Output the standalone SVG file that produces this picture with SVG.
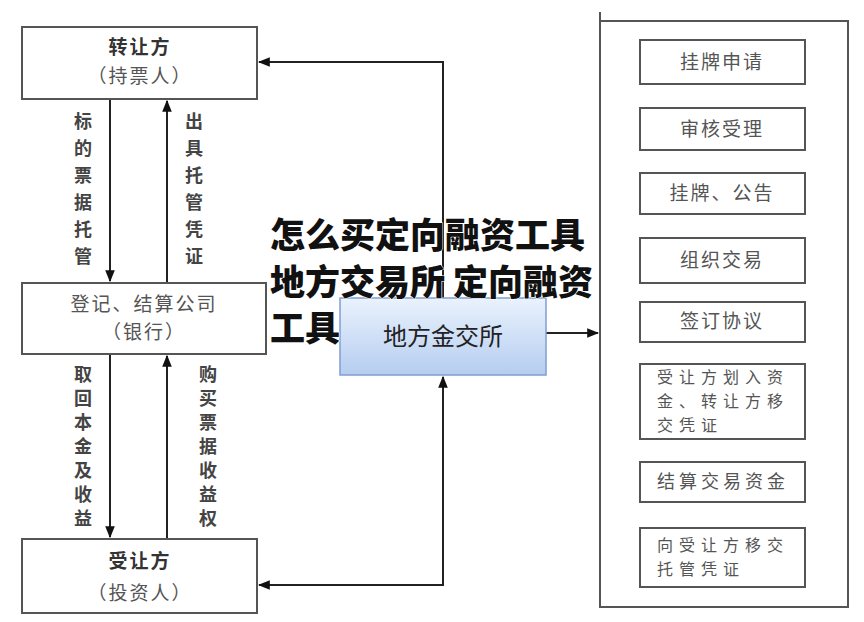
<svg xmlns="http://www.w3.org/2000/svg" width="864" height="622" viewBox="0 0 864 622">
<style>
.box{fill:#fff;stroke:#555;stroke-width:2}
.ln{fill:none;stroke:#222;stroke-width:2}
.t{font-family:"Noto Sans CJK SC","Noto Sans",sans-serif;font-size:19px;fill:#555;text-anchor:middle;letter-spacing:2px}
.tb{font-family:"Noto Sans CJK SC","Noto Sans",sans-serif;font-size:19px;fill:#333;font-weight:bold;text-anchor:middle;letter-spacing:2px}
.v{font-family:"Noto Sans CJK SC","Noto Sans",sans-serif;font-size:18px;fill:#444;font-weight:bold;text-anchor:middle}
.r{font-family:"Noto Sans CJK SC","Noto Sans",sans-serif;font-size:16px;fill:#555;letter-spacing:6px}
.r1{font-family:"Noto Sans CJK SC","Noto Sans",sans-serif;font-size:18px;fill:#555;letter-spacing:4px}
.title{font-family:"Noto Sans CJK SC","Noto Sans",sans-serif;font-size:35px;font-weight:900;fill:#111;stroke:#fff;stroke-width:1;paint-order:stroke}
</style>
<defs>
<marker id="ah" viewBox="0 0 10 10" refX="9" refY="5" markerWidth="6" markerHeight="6" orient="auto-start-reverse" markerUnits="strokeWidth"><path d="M0,1 L10,5 L0,9 z" fill="#111"/></marker>
<linearGradient id="bg" x1="0" y1="0" x2="0" y2="1"><stop offset="0" stop-color="#eaf2fd"/><stop offset="1" stop-color="#b5cdf0"/></linearGradient>
</defs>
<rect width="864" height="622" fill="#fff"/>

<g id="connectors">
<line class="ln" x1="110" y1="99" x2="110" y2="281" marker-end="url(#ah)"/>
<line class="ln" x1="167" y1="283" x2="167" y2="101" marker-end="url(#ah)"/>
<line class="ln" x1="110" y1="354" x2="110" y2="537" marker-end="url(#ah)"/>
<line class="ln" x1="167" y1="539" x2="167" y2="356" marker-end="url(#ah)"/>
<polyline class="ln" points="443,298 443,62 259,62" marker-end="url(#ah)"/>
<polyline class="ln" points="259,585 443,585 443,377" marker-start="url(#ah)" marker-end="url(#ah)"/>
<line class="ln" x1="546" y1="333" x2="598" y2="333" marker-end="url(#ah)"/>
</g>

<g id="transferor">
<rect class="box" x="22" y="27" width="235" height="72"/>
<text class="tb" x="140" y="54">转让方</text>
<text class="t" x="140" y="83">（持票人）</text>
</g>
<g id="label-left-1">
<text class="v" x="83"><tspan x="83" y="128">标</tspan><tspan x="83" y="155">的</tspan><tspan x="83" y="182">票</tspan><tspan x="83" y="209">据</tspan><tspan x="83" y="236">托</tspan><tspan x="83" y="263">管</tspan></text>
</g>
<g id="label-right-1">
<text class="v"><tspan x="194" y="128">出</tspan><tspan x="194" y="155">具</tspan><tspan x="194" y="182">托</tspan><tspan x="194" y="209">管</tspan><tspan x="194" y="236">凭</tspan><tspan x="194" y="263">证</tspan></text>
</g>

<g id="registrar">
<rect class="box" x="22" y="283" width="244" height="71"/>
<text class="t" x="144" y="311">登记、结算公司</text>
<text class="t" x="144" y="339">（银行）</text>
</g>
<g id="label-left-2">
<text class="v"><tspan x="83" y="381">取</tspan><tspan x="83" y="405">回</tspan><tspan x="83" y="429">本</tspan><tspan x="83" y="453">金</tspan><tspan x="83" y="477">及</tspan><tspan x="83" y="501">收</tspan><tspan x="83" y="525">益</tspan></text>
</g>
<g id="label-right-2">
<text class="v"><tspan x="208" y="381">购</tspan><tspan x="208" y="405">买</tspan><tspan x="208" y="429">票</tspan><tspan x="208" y="453">据</tspan><tspan x="208" y="477">收</tspan><tspan x="208" y="501">益</tspan><tspan x="208" y="525">权</tspan></text>
</g>

<g id="transferee">
<rect class="box" x="22" y="539" width="235" height="74"/>
<text class="tb" x="140" y="568">受让方</text>
<text class="t" x="140" y="600">（投资人）</text>
</g>

<g id="exchange">
<rect x="340" y="298" width="206" height="77" fill="url(#bg)" stroke="#7f9fcf" stroke-width="1.5"/>
<text x="443" y="345" font-family="'Noto Sans CJK SC','Noto Sans',sans-serif" font-size="24" fill="#222" text-anchor="middle">地方金交所</text>
</g>

<g id="process">
<polyline class="ln" points="600,12 600,607 848,607 848,21 600,21" style="stroke:#555"/>
<rect class="box" x="640" y="40" width="165" height="44"/>
<text class="t" x="722" y="69">挂牌申请</text>
<rect class="box" x="640" y="108" width="165" height="42"/>
<text class="t" x="722" y="136">审核受理</text>
<rect class="box" x="640" y="173" width="165" height="41"/>
<text class="t" x="722" y="200">挂牌、公告</text>
<rect class="box" x="640" y="238" width="165" height="45"/>
<text class="t" x="722" y="267">组织交易</text>
<rect class="box" x="640" y="302" width="165" height="40"/>
<text class="t" x="722" y="328">签订协议</text>
<rect class="box" x="640" y="364" width="165" height="75"/>
<text class="r"><tspan x="657" y="383">受让方划入资</tspan><tspan x="657" y="407">金、转让方移</tspan><tspan x="657" y="431">交凭证</tspan></text>
<rect class="box" x="640" y="462" width="165" height="40"/>
<text class="r1" x="657" y="488">结算交易资金</text>
<rect class="box" x="640" y="528" width="165" height="59"/>
<text class="r"><tspan x="657" y="551">向受让方移交</tspan><tspan x="657" y="575">托管凭证</tspan></text>
</g>

<g id="title">
<text class="title" x="270" y="248">怎么买定向融资工具</text>
<text class="title" x="270" y="295">地方交易所 定向融资</text>
<text class="title" x="270" y="341">工具</text>
</g>
</svg>
